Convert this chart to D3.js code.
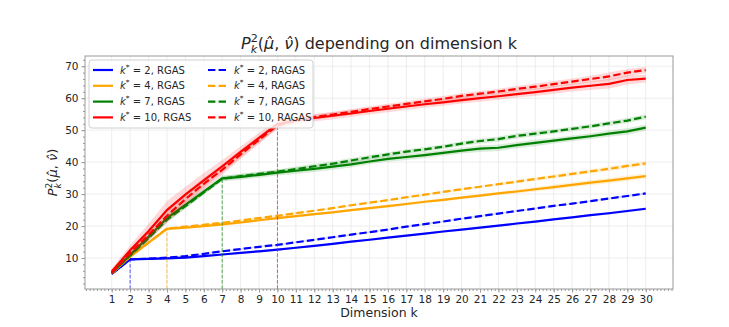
<!DOCTYPE html>
<html>
<head>
<meta charset="utf-8">
<script src="https://cdn.jsdelivr.net/npm/d3@7"></script>
<style>
  body { margin: 0; background: #fff; }
  text { font-family: "DejaVu Sans", sans-serif; fill: #262626; }
</style>
</head>
<body>
<div id="chart"></div>
<script>
// dimension k on the x axis
var dims = [1, 2, 3, 4, 5, 6, 7, 8, 9, 10, 11, 12, 13, 14, 15, 16, 17, 18, 19, 20, 21, 22, 23, 24, 25, 26, 27, 28, 29, 30];
var xTicks = dims;
var yTicks = [10, 20, 30, 40, 50, 60, 70];

// mean values, one array per run
var k2Rgas  = [5.0, 9.6, 9.7, 9.9, 10.1, 10.6, 11.1, 11.6, 12.1, 12.6, 13.2, 13.8, 14.4, 15.1, 15.7, 16.4, 17.0, 17.6, 18.3, 18.9, 19.5, 20.1, 20.8, 21.4, 22.1, 22.7, 23.4, 24.0, 24.7, 25.4];
var k2Ragas = [5.0, 9.6, 9.8, 10.1, 10.6, 11.3, 12.1, 12.8, 13.5, 14.1, 14.9, 15.7, 16.5, 17.3, 18.1, 18.9, 19.8, 20.6, 21.4, 22.3, 23.1, 23.9, 24.7, 25.5, 26.3, 27.0, 27.8, 28.6, 29.4, 30.2];
var k4Rgas  = [5.2, 10.4, 14.8, 19.1, 19.5, 20.0, 20.5, 21.1, 21.8, 22.5, 23.1, 23.7, 24.3, 25.0, 25.6, 26.2, 26.9, 27.6, 28.2, 28.9, 29.5, 30.2, 30.8, 31.5, 32.2, 32.9, 33.6, 34.2, 34.9, 35.6];
var k4Ragas = [5.2, 10.4, 14.8, 19.2, 19.8, 20.4, 21.0, 21.7, 22.5, 23.2, 24.0, 24.8, 25.6, 26.5, 27.3, 28.1, 29.0, 29.8, 30.7, 31.5, 32.3, 33.1, 33.9, 34.7, 35.5, 36.3, 37.1, 37.9, 38.8, 39.6];
var k7Rgas  = [5.3, 11.0, 16.6, 22.5, 26.6, 30.8, 34.9, 35.4, 36.0, 36.7, 37.3, 37.9, 38.6, 39.3, 40.2, 41.0, 41.6, 42.2, 42.9, 43.6, 44.2, 44.5, 45.3, 46.0, 46.7, 47.4, 48.1, 48.9, 49.6, 50.8];
var k7Ragas = [5.3, 10.8, 16.2, 22.0, 26.2, 30.5, 34.8, 35.6, 36.3, 37.0, 37.8, 38.7, 39.5, 40.5, 41.5, 42.4, 43.3, 44.0, 44.8, 45.8, 46.6, 47.2, 48.2, 48.9, 49.6, 50.4, 51.2, 52.1, 53.0, 54.2];
var k10Rgas  = [5.8, 12.4, 18.4, 25.0, 29.8, 34.3, 38.7, 43.2, 47.6, 51.9, 53.0, 53.8, 54.5, 55.2, 56.0, 56.7, 57.4, 58.1, 58.7, 59.4, 60.0, 60.6, 61.3, 61.9, 62.6, 63.3, 63.9, 64.5, 65.7, 66.1];
var k10Ragas = [5.4, 11.6, 17.2, 23.2, 28.4, 33.2, 37.6, 42.4, 47.0, 51.4, 53.2, 54.1, 54.9, 55.7, 56.6, 57.4, 58.2, 59.0, 59.8, 60.7, 61.4, 62.1, 62.9, 63.6, 64.4, 65.2, 66.0, 66.8, 68.0, 68.8];

// spread of the shaded bands (half width)
var k2Sd  = [0.3, 0.3, 0.3, 0.3, 0.3, 0.3, 0.3, 0.3, 0.3, 0.3, 0.3, 0.3, 0.3, 0.3, 0.3, 0.3, 0.3, 0.3, 0.3, 0.3, 0.3, 0.3, 0.3, 0.3, 0.3, 0.3, 0.3, 0.4, 0.4, 0.4];
var k4Sd  = [0.4, 0.4, 0.4, 0.4, 0.4, 0.4, 0.4, 0.4, 0.4, 0.4, 0.4, 0.4, 0.4, 0.4, 0.4, 0.5, 0.5, 0.5, 0.5, 0.5, 0.5, 0.5, 0.6, 0.7, 0.8, 0.8, 0.8, 0.9, 0.9, 0.8];
var k7Sd  = [0.5, 0.7, 1.0, 1.1, 1.0, 0.9, 0.9, 0.9, 0.9, 0.9, 1.0, 1.0, 1.0, 1.0, 0.9, 0.9, 0.9, 0.9, 0.9, 0.9, 1.0, 1.0, 1.0, 1.0, 0.9, 0.9, 0.9, 1.0, 1.0, 1.0];
var k10Sd = [0.9, 1.6, 2.3, 2.8, 2.5, 2.3, 2.0, 1.8, 1.6, 1.3, 1.1, 1.1, 1.1, 1.1, 1.1, 1.1, 1.1, 1.1, 1.1, 1.1, 1.1, 1.1, 1.1, 1.2, 1.2, 1.2, 1.3, 1.5, 1.4, 1.2];

var kStars = [2, 4, 7, 10];
var colours = ["#0000ff", "#ffa500", "#008000", "#ff0000"];
var rgasRuns = [k2Rgas, k4Rgas, k7Rgas, k10Rgas];
var ragasRuns = [k2Ragas, k4Ragas, k7Ragas, k10Ragas];
var spreads = [k2Sd, k4Sd, k7Sd, k10Sd];

var w = 729;
var h = 327;
var plot = { left: 85, right: 673, top: 56, bottom: 289 };

var svg = d3.select("#chart").append("svg")
    .attr("width", w)
    .attr("height", h);

var x = d3.scaleLinear().domain([-0.45, 31.48]).range([plot.left, plot.right]);
var y = d3.scaleLinear().domain([0.3, 73.2]).range([plot.bottom, plot.top]);

// grid, major only
svg.append("g").selectAll("line").data(xTicks).enter().append("line")
    .attr("x1", d => x(d)).attr("x2", d => x(d))
    .attr("y1", plot.top).attr("y2", plot.bottom)
    .style("stroke", "#e8e8e8").style("stroke-width", 0.8);
svg.append("g").selectAll("line").data(yTicks).enter().append("line")
    .attr("x1", plot.left).attr("x2", plot.right)
    .attr("y1", d => y(d)).attr("y2", d => y(d))
    .style("stroke", "#e8e8e8").style("stroke-width", 0.8);

svg.append("clipPath").attr("id", "plotclip").append("rect")
    .attr("x", plot.left).attr("y", plot.top)
    .attr("width", plot.right - plot.left).attr("height", plot.bottom - plot.top);

var marks = svg.append("g").attr("clip-path", "url(#plotclip)");

var band = d3.area()
    .x((d, i) => x(dims[i]))
    .y0(d => y(d[0] - d[1]))
    .y1(d => y(d[0] + d[1]));

var line = d3.line()
    .x((d, i) => x(dims[i]))
    .y(d => y(d));

kStars.forEach((k, j) => {
    var col = colours[j];
    var sd = spreads[j];

    // shaded spread, a bit wider for the RGAS runs
    marks.append("path")
        .datum(rgasRuns[j].map((v, i) => [v, sd[i]]))
        .attr("d", band)
        .style("fill", col).style("opacity", 0.15);
    marks.append("path")
        .datum(ragasRuns[j].map((v, i) => [v, sd[i] * 0.8]))
        .attr("d", band)
        .style("fill", col).style("opacity", 0.15);

    // thin dashed marker from the axis up to the curve at k = k*
    marks.append("line")
        .attr("x1", x(k)).attr("x2", x(k))
        .attr("y1", plot.bottom).attr("y2", y(rgasRuns[j][dims.indexOf(k)]))
        .style("stroke", col).style("stroke-width", 1)
        .style("stroke-dasharray", "3.7,1.6").style("opacity", 0.65);

    marks.append("path")
        .datum(rgasRuns[j])
        .attr("d", line)
        .style("fill", "none").style("stroke", col).style("stroke-width", 2.2);
    marks.append("path")
        .datum(ragasRuns[j])
        .attr("d", line)
        .style("fill", "none").style("stroke", col).style("stroke-width", 2.2)
        .style("stroke-dasharray", "7.4,3.2");
});

// frame
svg.append("rect")
    .attr("x", plot.left).attr("y", plot.top)
    .attr("width", plot.right - plot.left).attr("height", plot.bottom - plot.top)
    .style("fill", "none").style("stroke", "#999").style("stroke-width", 1);

// axes, minor ticks first then the labelled ones
var minorX = d3.range(-0.4, 31.45, 0.2);
var minorY = d3.range(2, 73, 2);

svg.append("g")
    .attr("transform", "translate(0," + plot.bottom + ")")
    .call(d3.axisBottom(x).tickValues(minorX).tickSize(2).tickFormat(""))
    .call(g => g.select(".domain").remove())
    .call(g => g.selectAll("line").style("stroke", "#999"));
svg.append("g")
    .attr("transform", "translate(" + plot.left + ",0)")
    .call(d3.axisLeft(y).tickValues(minorY).tickSize(2).tickFormat(""))
    .call(g => g.select(".domain").remove())
    .call(g => g.selectAll("line").style("stroke", "#999"));

svg.append("g")
    .attr("transform", "translate(0," + plot.bottom + ")")
    .call(d3.axisBottom(x).tickValues(xTicks).tickSize(3.5).tickPadding(3))
    .call(g => g.select(".domain").remove())
    .call(g => g.selectAll("line").style("stroke", "#999"))
    .call(g => g.selectAll("text").style("font-size", "10.5px").style("font-family", "DejaVu Sans"));
svg.append("g")
    .attr("transform", "translate(" + plot.left + ",0)")
    .call(d3.axisLeft(y).tickValues(yTicks).tickSize(3.5).tickPadding(3))
    .call(g => g.select(".domain").remove())
    .call(g => g.selectAll("line").style("stroke", "#999"))
    .call(g => g.selectAll("text").style("font-size", "10.5px").style("font-family", "DejaVu Sans"));

// lays out bits of "math" as tspans of one text, left to right. returns width used
function mathText(g, parts) {
    var txt = g.append("text").style("white-space", "pre");
    var cx = 0, stackW = 0;
    parts.forEach(p => {
        var t = txt.append("tspan")
            .attr("x", cx)
            .attr("y", p.dy || 0)
            .style("font-size", p.size + "px")
            .style("font-style", p.it ? "italic" : "normal")
            .text(p.t);
        var tw = t.node().getComputedTextLength();
        if (p.stack) {
            stackW = tw; // next piece sits on top at the same x
        } else {
            cx += Math.max(tw, stackW);
            stackW = 0;
        }
    });
    return cx;
}

function pk2(size) {
    var s = size * 0.7;
    return [
        { t: "P", it: true, size: size },
        { t: "k", it: true, size: s, dy: size * 0.28, stack: true },
        { t: "2", size: s, dy: -size * 0.42 },
        { t: "(", size: size },
        { t: "\u03bc\u0302", it: true, size: size },
        { t: ", ", size: size },
        { t: "\u03bd\u0302", it: true, size: size },
        { t: ")", size: size }
    ];
}

// title
var title = svg.append("g");
var tw = mathText(title, pk2(16).concat([{ t: " depending on dimension k", size: 16 }]));
title.attr("transform", "translate(" + ((plot.left + plot.right) / 2 - tw / 2) + ",49)");

// y label
var yl = svg.append("g");
var yw = mathText(yl, pk2(13));
yl.attr("transform", "translate(57," + ((plot.top + plot.bottom) / 2 + yw / 2) + ") rotate(-90)");

// x label
svg.append("text")
    .attr("x", (plot.left + plot.right) / 2)
    .attr("y", 317)
    .attr("text-anchor", "middle")
    .style("font-size", "12.5px")
    .text("Dimension k");

// legend, two columns: RGAS solid, RAGAS dashed
var legend = svg.append("g");
legend.append("rect")
    .attr("x", 89).attr("y", 60)
    .attr("width", 224).attr("height", 68)
    .attr("rx", 3)
    .style("fill", "#fff").style("fill-opacity", 0.8)
    .style("stroke", "#d0d0d0").style("stroke-width", 1);

var legendCols = [
    { name: "RGAS", x0: 93, textX: 120, dash: null },
    { name: "RAGAS", x0: 208, textX: 234, dash: "7.4,3.2" }
];

legendCols.forEach(c => {
    kStars.forEach((k, j) => {
        var ly = 70 + j * 15.8;
        legend.append("line")
            .attr("x1", c.x0).attr("x2", c.x0 + 20)
            .attr("y1", ly).attr("y2", ly)
            .style("stroke", colours[j]).style("stroke-width", 2.2)
            .style("stroke-dasharray", c.dash);
        var lg = legend.append("g").attr("transform", "translate(" + c.textX + "," + (ly + 3.6) + ")");
        mathText(lg, [
            { t: "k", it: true, size: 10 },
            { t: "*", size: 7.5, dy: -4 },
            { t: " = " + k + ", " + c.name, size: 10 }
        ]);
    });
});
</script>
</body>
</html>
